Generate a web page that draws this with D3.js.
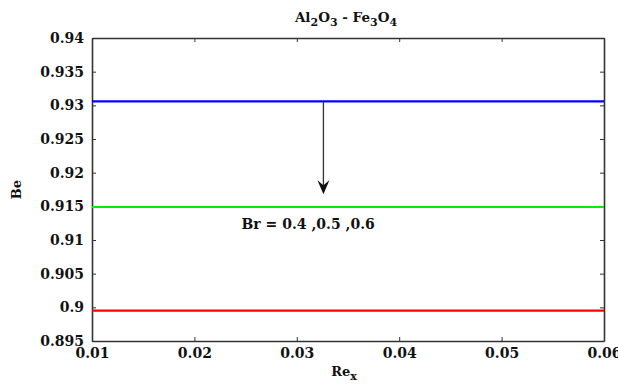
<!DOCTYPE html>
<html>
<head>
<meta charset="utf-8">
<script src="https://cdn.jsdelivr.net/npm/d3@7"></script>
<style>
  html, body { margin: 0; padding: 0; background: #fff; }
  svg { display: block; }
  text { font-family: "DejaVu Serif", serif; font-weight: bold; fill: #111; }
</style>
</head>
<body>
<div id="chart"></div>
<script>
// Be versus Re_x for three values of Br (Al2O3 - Fe3O4 hybrid)
const reX = [0.01, 0.02, 0.03, 0.04, 0.05, 0.06];
const brValues = [0.4, 0.5, 0.6];
const beBr04 = [0.9306, 0.9306, 0.9306, 0.9306, 0.9306, 0.9306];
const beBr05 = [0.9149, 0.9149, 0.9149, 0.9149, 0.9149, 0.9149];
const beBr06 = [0.8995, 0.8995, 0.8995, 0.8995, 0.8995, 0.8995];
const seriesColors = ["#0000ff", "#00ee00", "#ff0000"];
const xTicks = [0.01, 0.02, 0.03, 0.04, 0.05, 0.06];
const yTicks = [0.895, 0.9, 0.905, 0.91, 0.915, 0.92, 0.925, 0.93, 0.935, 0.94];
const arrowX = 0.0326, arrowFrom = 0.9306, arrowTo = 0.9168;
const labelX = 0.0246, labelY = 0.9117;

const W = 618, H = 385;
const m = { left: 92, right: 14, top: 38, bottom: 44 };
const iw = W - m.left - m.right, ih = H - m.top - m.bottom;

const svg = d3.select("#chart").append("svg").attr("width", W).attr("height", H);
const g = svg.append("g").attr("transform", `translate(${m.left},${m.top})`);

const x = d3.scaleLinear().domain([0.01, 0.06]).range([0, iw]);
const y = d3.scaleLinear().domain([0.895, 0.94]).range([ih, 0]);

const fmt = d => String(+d.toFixed(3));
const axisColor = "#333";

// bottom and left axes, ticks pointing inward
const xAxis = g.append("g").attr("transform", `translate(0,${ih})`)
  .call(d3.axisBottom(x).tickValues(xTicks).tickFormat(fmt).tickSizeInner(-4).tickSizeOuter(0).tickPadding(7));
const yAxis = g.append("g")
  .call(d3.axisLeft(y).tickValues(yTicks).tickFormat(fmt).tickSizeInner(-4).tickSizeOuter(0).tickPadding(8));
// mirrored top and right axes
const xTop = g.append("g")
  .call(d3.axisTop(x).tickValues(xTicks).tickFormat("").tickSizeInner(-4).tickSizeOuter(0));
const yRight = g.append("g").attr("transform", `translate(${iw},0)`)
  .call(d3.axisRight(y).tickValues(yTicks).tickFormat("").tickSizeInner(-4).tickSizeOuter(0));

[xAxis, yAxis, xTop, yRight].forEach(a => {
  a.selectAll("path.domain").attr("stroke", axisColor).attr("stroke-width", 1.6);
  a.selectAll(".tick line").attr("stroke", axisColor).attr("stroke-width", 1);
  a.selectAll(".tick text").style("font-family", "DejaVu Serif, serif")
    .style("font-weight", "bold").style("font-size", "14px").attr("fill", "#111");
});

// curves
const line = d3.line().x((d, i) => x(reX[i])).y(d => y(d));
[beBr04, beBr05, beBr06].forEach((s, k) => {
  g.append("path").datum(s).attr("d", line)
    .attr("fill", "none").attr("stroke", seriesColors[k]).attr("stroke-width", 2.2);
});

// arrow showing increasing Br
g.append("line")
  .attr("x1", x(arrowX)).attr("x2", x(arrowX))
  .attr("y1", y(arrowFrom)).attr("y2", y(arrowTo) - 6)
  .attr("stroke", "#333").attr("stroke-width", 1.3);
const ax = x(arrowX), ay = y(arrowTo);
g.append("path")
  .attr("d", `M${ax - 6},${ay - 14} L${ax},${ay} L${ax + 6},${ay - 14} L${ax},${ay - 9} Z`)
  .attr("fill", "#111");

g.append("text")
  .attr("x", x(labelX)).attr("y", y(labelY))
  .style("font-size", "14px")
  .text(`Br = ${brValues.join(" ,")}`);

// title with subscripts
const title = svg.append("text").attr("x", m.left + iw / 2 - 2).attr("y", 22)
  .attr("text-anchor", "middle").style("font-size", "13.5px");
const parts = [["Al", 0], ["2", 1], ["O", 0], ["3", 1], [" - Fe", 0], ["3", 1], ["O", 0], ["4", 1]];
parts.forEach(([t, sub], i) => {
  const ts = title.append("tspan").text(t);
  if (sub) ts.attr("dy", 4).style("font-size", "11px");
  else if (i > 0) ts.attr("dy", -4);
});

// axis titles
svg.append("text")
  .attr("transform", `translate(21,${m.top + ih / 2}) rotate(-90)`)
  .attr("text-anchor", "middle").style("font-size", "13px").text("Be");

const xl = svg.append("text").attr("x", m.left + iw / 2 - 4).attr("y", 376)
  .attr("text-anchor", "middle").style("font-size", "13px");
xl.append("tspan").text("Re");
xl.append("tspan").text("x").attr("dy", 4).style("font-size", "11px");
</script>
</body>
</html>
